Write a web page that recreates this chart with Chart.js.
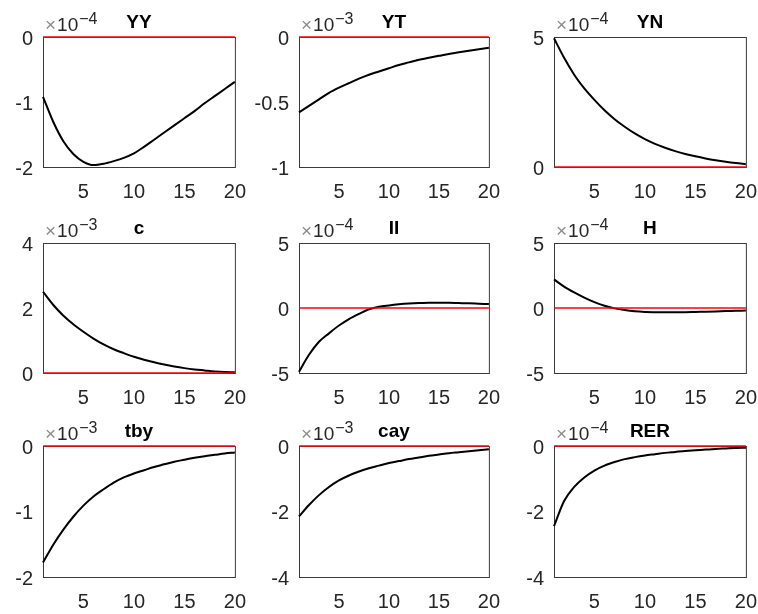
<!DOCTYPE html>
<html>
<head>
<meta charset="utf-8">
<script src="https://cdn.jsdelivr.net/npm/chart.js@4.4.1/dist/chart.umd.min.js"></script>
<style>
    html, body { margin: 0; padding: 0; background: #fff; }
    #wrap { position: relative; width: 758px; height: 614px; overflow: hidden; }
    #wrap canvas { position: absolute; }
</style>
</head>
<body>
<div id="wrap"></div>
<script>
// Horizon (periods)
const periods = [1, 2, 3, 4, 5, 6, 7, 8, 9, 10, 11, 12, 13, 14, 15, 16, 17, 18, 19, 20];
const xTicks = [5, 10, 15, 20];

// Impulse responses, in units of the panel's exponent
const yyValues  = [-0.92, -1.30, -1.60, -1.80, -1.92, -1.97, -1.95, -1.91, -1.86, -1.79, -1.69, -1.58, -1.47, -1.36, -1.25, -1.14, -1.02, -0.91, -0.80, -0.69];
const ytValues  = [-0.58, -0.53, -0.48, -0.43, -0.39, -0.355, -0.32, -0.29, -0.265, -0.24, -0.215, -0.195, -0.175, -0.16, -0.145, -0.13, -0.117, -0.105, -0.094, -0.083];
const ynValues  = [4.95, 4.2, 3.55, 3.02, 2.58, 2.18, 1.84, 1.55, 1.29, 1.07, 0.89, 0.74, 0.61, 0.5, 0.41, 0.33, 0.26, 0.2, 0.15, 0.11];
const cValues   = [2.5, 2.1, 1.77, 1.5, 1.27, 1.06, 0.88, 0.73, 0.61, 0.5, 0.41, 0.33, 0.26, 0.2, 0.15, 0.11, 0.08, 0.05, 0.03, 0.02];
const iiValues  = [-4.9, -3.6, -2.6, -1.95, -1.35, -0.85, -0.45, -0.1, 0.1, 0.2, 0.28, 0.34, 0.38, 0.4, 0.41, 0.4, 0.38, 0.36, 0.33, 0.3];
const hValues   = [2.2, 1.65, 1.2, 0.8, 0.45, 0.17, -0.03, -0.16, -0.25, -0.3, -0.32, -0.33, -0.33, -0.32, -0.3, -0.28, -0.26, -0.24, -0.22, -0.2];
const tbyValues = [-1.78, -1.51, -1.28, -1.08, -0.91, -0.77, -0.66, -0.56, -0.48, -0.42, -0.37, -0.32, -0.28, -0.24, -0.21, -0.18, -0.155, -0.135, -0.115, -0.1];
const cayValues = [-2.15, -1.8, -1.5, -1.25, -1.05, -0.9, -0.78, -0.68, -0.6, -0.52, -0.46, -0.4, -0.35, -0.3, -0.26, -0.22, -0.19, -0.16, -0.13, -0.1];
const rerValues = [-2.45, -1.68, -1.25, -0.96, -0.75, -0.6, -0.49, -0.4, -0.34, -0.29, -0.25, -0.21, -0.18, -0.15, -0.13, -0.11, -0.09, -0.075, -0.06, -0.05];

// Zero reference line
const zeroLine = [{ x: 1, y: 0 }, { x: 20, y: 0 }];

const panelTitles = ['YY', 'YT', 'YN', 'c', 'II', 'H', 'tby', 'cay', 'RER'];
const panelSeries = [yyValues, ytValues, ynValues, cValues, iiValues, hValues, tbyValues, cayValues, rerValues];
const panelExponents = ['-4', '-3', '-4', '-3', '-4', '-4', '-3', '-3', '-4'];
const panelYTicks = [
    [-2, -1, 0], [-1, -0.5, 0], [0, 5],
    [0, 2, 4], [-5, 0, 5], [-5, 0, 5],
    [-2, -1, 0], [-4, -2, 0], [-4, -2, 0],
];

// Grid layout (pixel box of each axes)
const colLeft = [43, 299, 554];
const colWidth = [192, 190, 192];
const rowTop = [37, 243, 446];
const rowHeight = [130, 130, 131];
const axisW = 50;
const topPad = 37;
const bottomH = 42;
const rightPad = 24;

const FONT = '"Liberation Sans", Arial, Helvetica, sans-serif';
const AXIS_COLOR = '#262626';

// Box, title and exponent label
const framePlugin = {
    id: 'frame',
    beforeDatasetsDraw(chart) {
        const { ctx, chartArea: a } = chart;
        ctx.save();
        ctx.strokeStyle = '#3a3a3a';
        ctx.lineWidth = 1;
        ctx.strokeRect(a.left + 0.5, a.top + 0.5, a.right - a.left, a.bottom - a.top);
        ctx.restore();
    },
    afterDraw(chart, args, opts) {
        const { ctx, chartArea: a } = chart;
        ctx.save();
        ctx.fillStyle = '#000';
        ctx.font = 'bold 19px ' + FONT;
        ctx.textAlign = 'center';
        ctx.textBaseline = 'alphabetic';
        ctx.fillText(opts.title, (a.left + a.right) / 2, a.top - 9);

        ctx.textAlign = 'left';
        const x0 = a.left + 2;
        ctx.font = '19px ' + FONT;
        ctx.fillStyle = '#8c8c8c';
        ctx.fillText('\u00d7', x0, a.top - 6);
        const wx = ctx.measureText('\u00d7').width;
        ctx.fillStyle = AXIS_COLOR;
        ctx.fillText('10', x0 + wx + 1, a.top - 6);
        const w10 = ctx.measureText('10').width;
        ctx.font = '16px ' + FONT;
        ctx.fillText(opts.exponent.replace('-', '\u2212'), x0 + wx + w10 + 2, a.top - 13);
        ctx.restore();
    },
};

function makePanel(i) {
    const r = Math.floor(i / 3);
    const c = i % 3;
    const canvas = document.createElement('canvas');
    canvas.width = axisW + colWidth[c] + rightPad;
    canvas.height = topPad + rowHeight[r] + bottomH;
    canvas.style.left = (colLeft[c] - axisW) + 'px';
    canvas.style.top = (rowTop[r] - topPad) + 'px';
    document.getElementById('wrap').appendChild(canvas);

    const yTicks = panelYTicks[i];

    new Chart(canvas, {
        type: 'line',
        data: {
            datasets: [
                {
                    data: zeroLine,
                    borderColor: '#ff0000',
                    borderWidth: 1.5,
                    pointRadius: 0,
                    order: 0,
                    clip: false,
                },
                {
                    data: periods.map((p, k) => ({ x: p, y: panelSeries[i][k] })),
                    borderColor: '#000',
                    borderWidth: 2,
                    pointRadius: 0,
                    cubicInterpolationMode: 'monotone',
                    order: 1,
                    clip: false,
                },
            ],
        },
        options: {
            responsive: false,
            animation: false,
            events: [],
            layout: { padding: { top: topPad, right: rightPad, left: 0, bottom: 0 } },
            plugins: {
                legend: { display: false },
                tooltip: { enabled: false },
                frame: { title: panelTitles[i], exponent: panelExponents[i] },
            },
            scales: {
                x: {
                    type: 'linear',
                    min: 1,
                    max: 20,
                    grid: { display: false, drawTicks: false },
                    border: { display: false },
                    afterBuildTicks: (s) => { s.ticks = xTicks.map(v => ({ value: v })); },
                    afterFit: (s) => { s.height = bottomH; },
                    ticks: {
                        autoSkip: false,
                        maxRotation: 0,
                        padding: 13,
                        color: AXIS_COLOR,
                        font: { family: FONT, size: 20 },
                        callback: (v) => String(v),
                    },
                },
                y: {
                    min: yTicks[0],
                    max: yTicks[yTicks.length - 1],
                    grid: { display: false, drawTicks: false },
                    border: { display: false },
                    afterBuildTicks: (s) => { s.ticks = yTicks.map(v => ({ value: v })); },
                    afterFit: (s) => { s.width = axisW; },
                    ticks: {
                        padding: 10,
                        labelOffset: 2,
                        color: AXIS_COLOR,
                        font: { family: FONT, size: 20 },
                        callback: (v) => String(v),
                    },
                },
            },
        },
        plugins: [framePlugin],
    });
}

for (let i = 0; i < 9; i++) {
    makePanel(i);
}
</script>
</body>
</html>
